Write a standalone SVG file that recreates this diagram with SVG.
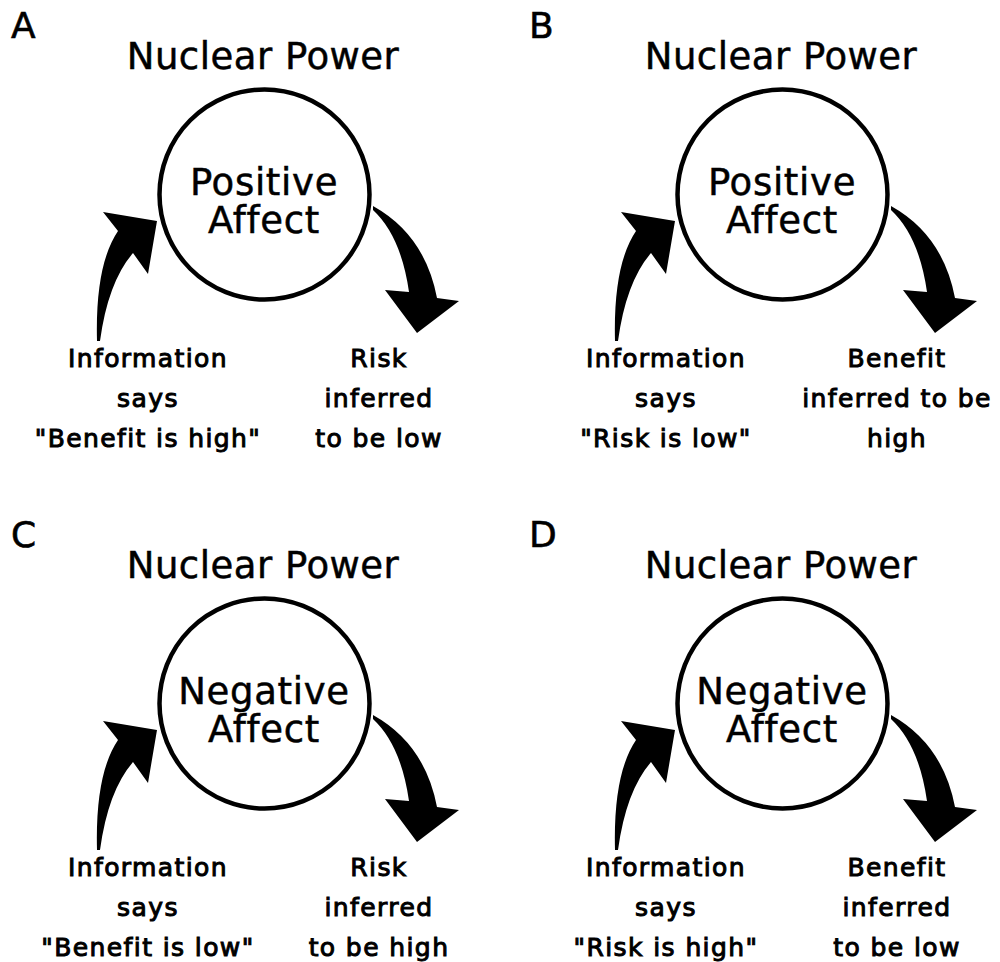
<svg xmlns="http://www.w3.org/2000/svg" xmlns:xlink="http://www.w3.org/1999/xlink" width="1000" height="962" viewBox="0 0 1000 962">
<style>
text{font-family:"DejaVu Sans","Liberation Sans",sans-serif;fill:#000;stroke:#000;text-anchor:middle}
.panel{font-size:36px;text-anchor:start;stroke-width:0.6}
.title{font-size:37px;letter-spacing:0.5px;stroke-width:0.5}
.affect{font-size:37px;letter-spacing:0.7px;stroke-width:0.5}
.lbl{font-size:25px;letter-spacing:1.4px;stroke-width:1}
.node{fill:#fff;stroke:#000;stroke-width:4.5}
.arrow{fill:#000;stroke:none}
</style>
<defs>
<path id="arrIn" d="M97,341 Q95,265 118,231 L103,212 L157,221 L148,274 L133,253 Q108,282 100,341 Z"/>
<path id="arrOut" d="M373,206 Q425,235 437,298 L459,301 L417,333 L385,290 L409,292 Q401,236 373,210 Z"/>
</defs>
<rect width="1000" height="962" fill="#fff"/>

<g id="panelA">
<text class="panel" x="11" y="38">A</text>
<g id="A-title"><text class="title" x="263" y="69">Nuclear Power</text></g>
<g id="A-affect"><circle class="node" cx="264.5" cy="194.5" r="105"/><text class="affect" x="264" y="195">Positive</text><text class="affect" x="264" y="233">Affect</text></g>
<g id="A-info"><text class="lbl" x="148" y="367">Information</text><text class="lbl" x="148" y="407">says</text><text class="lbl" x="148" y="447">"Benefit is high"</text></g>
<g id="A-inferred"><text class="lbl" x="379" y="367">Risk</text><text class="lbl" x="379" y="407">inferred</text><text class="lbl" x="379" y="447">to be low</text></g>
<g id="A-connectors"><use xlink:href="#arrIn" class="arrow"/><use xlink:href="#arrOut" class="arrow"/></g>
</g>

<g id="panelB" transform="translate(518,0)">
<text class="panel" x="11" y="38">B</text>
<g id="B-title"><text class="title" x="263" y="69">Nuclear Power</text></g>
<g id="B-affect"><circle class="node" cx="264.5" cy="194.5" r="105"/><text class="affect" x="264" y="195">Positive</text><text class="affect" x="264" y="233">Affect</text></g>
<g id="B-info"><text class="lbl" x="148" y="367">Information</text><text class="lbl" x="148" y="407">says</text><text class="lbl" x="148" y="447">"Risk is low"</text></g>
<g id="B-inferred"><text class="lbl" x="379" y="367">Benefit</text><text class="lbl" x="379" y="407">inferred to be</text><text class="lbl" x="379" y="447">high</text></g>
<g id="B-connectors"><use xlink:href="#arrIn" class="arrow"/><use xlink:href="#arrOut" class="arrow"/></g>
</g>

<g id="panelC" transform="translate(0,509)">
<text class="panel" x="11" y="38">C</text>
<g id="C-title"><text class="title" x="263" y="69">Nuclear Power</text></g>
<g id="C-affect"><circle class="node" cx="264.5" cy="194.5" r="105"/><text class="affect" x="264" y="195">Negative</text><text class="affect" x="264" y="233">Affect</text></g>
<g id="C-info"><text class="lbl" x="148" y="367">Information</text><text class="lbl" x="148" y="407">says</text><text class="lbl" x="148" y="447">"Benefit is low"</text></g>
<g id="C-inferred"><text class="lbl" x="379" y="367">Risk</text><text class="lbl" x="379" y="407">inferred</text><text class="lbl" x="379" y="447">to be high</text></g>
<g id="C-connectors"><use xlink:href="#arrIn" class="arrow"/><use xlink:href="#arrOut" class="arrow"/></g>
</g>

<g id="panelD" transform="translate(518,509)">
<text class="panel" x="11" y="38">D</text>
<g id="D-title"><text class="title" x="263" y="69">Nuclear Power</text></g>
<g id="D-affect"><circle class="node" cx="264.5" cy="194.5" r="105"/><text class="affect" x="264" y="195">Negative</text><text class="affect" x="264" y="233">Affect</text></g>
<g id="D-info"><text class="lbl" x="148" y="367">Information</text><text class="lbl" x="148" y="407">says</text><text class="lbl" x="148" y="447">"Risk is high"</text></g>
<g id="D-inferred"><text class="lbl" x="379" y="367">Benefit</text><text class="lbl" x="379" y="407">inferred</text><text class="lbl" x="379" y="447">to be low</text></g>
<g id="D-connectors"><use xlink:href="#arrIn" class="arrow"/><use xlink:href="#arrOut" class="arrow"/></g>
</g>
</svg>
